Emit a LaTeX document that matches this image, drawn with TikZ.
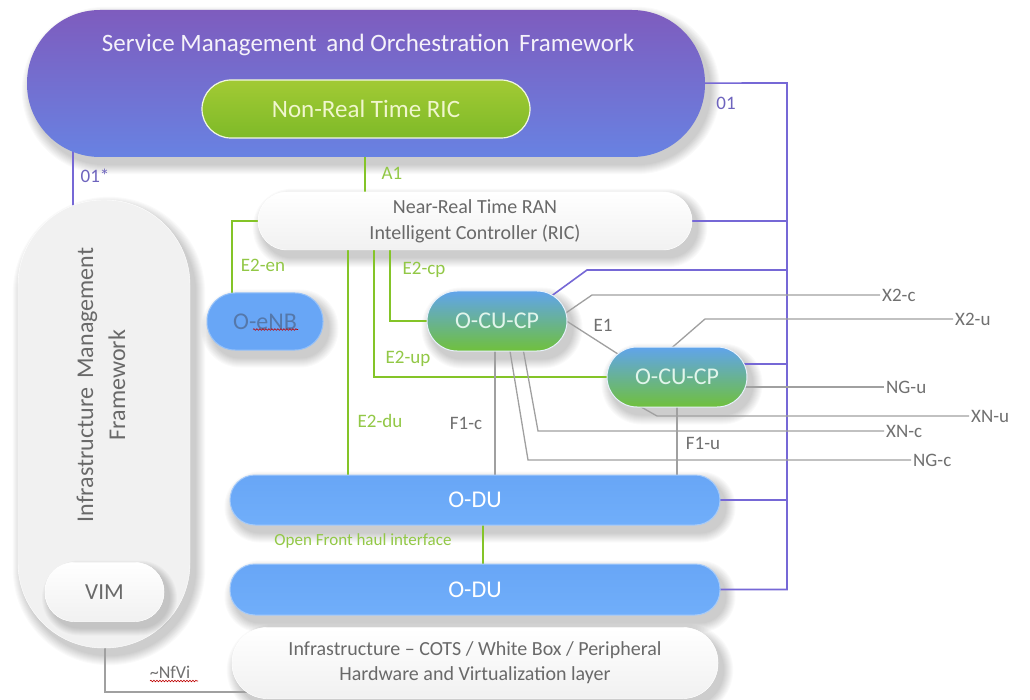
\documentclass[tikz,border=0pt]{standalone}
\usepackage{fontspec}
\setmainfont{Carlito}
\usetikzlibrary{calc,decorations.pathmorphing}
\pgfdeclarelayer{canvas}
\pgfdeclarelayer{bg}
\pgfdeclarelayer{top}
\pgfsetlayers{canvas,bg,main,top}

\definecolor{olinecol}{RGB}{118,104,214}
\definecolor{olabcol}{RGB}{110,100,190}
\definecolor{eline}{RGB}{132,196,40}
\definecolor{elab}{RGB}{146,200,70}
\definecolor{gline}{RGB}{160,160,160}
\definecolor{glab}{RGB}{112,112,112}
\definecolor{smotop}{RGB}{126,92,190}
\definecolor{smobot}{RGB}{104,130,226}
\definecolor{rictop}{RGB}{162,202,52}
\definecolor{ricbot}{RGB}{126,186,40}
\definecolor{blue1}{RGB}{104,166,246}
\definecolor{blue2}{RGB}{112,174,250}
\definecolor{cutop}{RGB}{96,164,236}
\definecolor{cubot}{RGB}{112,192,60}
\definecolor{softgray}{RGB}{241,241,241}
\definecolor{textgray}{RGB}{105,105,105}
\definecolor{enbtext}{RGB}{85,120,170}

\begin{document}
\begin{tikzpicture}[x=1pt,y=-1pt,
  pill/.style={rectangle, inner sep=0pt, rounded corners=#1},
  whitebox/.style={fill=white, draw=white, top color=white, bottom color=softgray},
  bluebox/.style={top color=blue1, bottom color=blue2, draw=blue1!60!white, line width=1pt,
      text=white, font=\fontsize{24}{28}\selectfont},
  cubox/.style={top color=cutop, bottom color=cubot, draw=white!85!cutop, line width=1pt,
      text={rgb,255:red,225;green,245;blue,235}, font=\fontsize{24}{28}\selectfont,
      minimum width=140pt, minimum height=60pt},
  oline/.style={draw=olinecol, line width=1.6pt},
  eline/.style={draw=eline, line width=1.6pt},
  gline/.style={draw=gline, line width=1.3pt},
  olab/.style={text=olabcol, font=\fontsize{19}{22}\selectfont},
  elab/.style={text=elab, font=\fontsize{19}{22}\selectfont},
  glab/.style={text=glab, font=\fontsize{19}{22}\selectfont},
  spell/.style={draw=red!75!black, line width=0.6pt, decorate,
      decoration={snake, amplitude=0.8pt, segment length=3pt}}
]
\begin{pgfonlayer}{canvas}
  \fill[white] (0,0) rectangle (1030,700);
\end{pgfonlayer}
\useasboundingbox (0,0) rectangle (1030,700);

% ---------- management layer ----------
\node[pill=73pt, top color=smotop, bottom color=smobot,
      minimum width=678pt, minimum height=147pt] (smo) at (366,83.5) {};
\node[text=white!92!smotop, font=\fontsize{25}{30}\selectfont] (smotitle) at (368,45)
  {Service Management\, and Orchestration\, Framework};
\node[pill=29pt, top color=rictop, bottom color=ricbot, draw=white!85!rictop, line width=1.2pt,
      minimum width=328pt, minimum height=58pt,
      text={rgb,255:red,240;green,246;blue,205}, font=\fontsize{25}{30}\selectfont]
  (nonrt) at (366,109) {Non-Real Time RIC};

% ---------- infrastructure management ----------
\node[pill=85pt, fill=softgray, draw=white, minimum width=172pt, minimum height=448pt]
  (imf) at (104,424) {};
\node[rotate=90, align=center, text=textgray, font=\fontsize{24}{32}\selectfont] (imftext) at (101,385)
  {Infrastructure\, Management\\Framework};
\begin{pgfonlayer}{top}
  % VIM sits on the framework box, so its shadow goes above that box
  \foreach \k in {1,...,8}
    \fill[black, opacity=0.022, rounded corners=29.5+\k]
      ($(104.5,592)+(-59.5+5-\k,-29.5+6-\k)$) rectangle ($(104.5,592)+(59.5+5+\k,29.5+6+\k)$);
  \node[pill=29pt, whitebox, minimum width=119pt, minimum height=59pt,
        text=textgray, font=\fontsize{23}{28}\selectfont] (vim) at (104.5,592) {VIM};
\end{pgfonlayer}

% ---------- RAN functions ----------
\node[pill=29pt, whitebox, minimum width=434pt, minimum height=58pt, align=center,
      text=textgray, font=\fontsize{20}{26}\selectfont] (nearrt) at (475,221)
  {Near-Real Time RAN\\Intelligent Controller (RIC)};
\node[pill=28pt, fill=blue1, draw=blue1!70!white, line width=1pt,
      minimum width=116pt, minimum height=57pt,
      text=enbtext, font=\fontsize{24}{28}\selectfont] (enb) at (265,321.5) {O-eNB};
\node[pill=30pt, cubox] (cu1) at (497,321) {O-CU-CP};
\node[pill=30pt, cubox] (cu2) at (677,377) {O-CU-CP};
\node[pill=25pt, bluebox, minimum width=490pt, minimum height=50pt] (odu1) at (475,500) {O-DU};
\node[pill=25pt, bluebox, minimum width=490pt, minimum height=51pt] (odu2) at (475,589.5) {O-DU};
\node[pill=35pt, whitebox, minimum width=486pt, minimum height=71pt, align=center,
      text=textgray, font=\fontsize{20}{25}\selectfont] (infra) at (475,663)
  {Infrastructure -- COTS / White Box / Peripheral\\Hardware and Virtualization layer};

% spell-check marks under two words
\draw[spell] ($(enb.center)+(-12,8)$) -- ($(enb.center)+(33,8)$);

% ---------- interface lines (behind the boxes) ----------
\coordinate (busT) at (787,83);
\coordinate (o1x) at (73,0);
\coordinate (a1x) at (365,0);
\coordinate (enx) at (232,0);
\coordinate (cpx) at (390,0);
\coordinate (upx) at (374,0);
\coordinate (dux) at (348,0);
\coordinate (fhx) at (483,0);
\coordinate (f1cx) at (495,0);
\coordinate (nfx) at (105,0);
\coordinate (nfy) at (0,692);

\begin{pgfonlayer}{bg}
  % soft drop shadows: stacked translucent outlines, offset down-right
  \foreach \n/\r in {smo/73.5, imf/86, nearrt/29, enb/28.5, cu1/30, cu2/30,
                     odu1/25, odu2/25.5, infra/35.5}
    \foreach \k in {1,...,10}
      \fill[black, opacity=0.02, rounded corners=\r+\k]
        ($(\n.north west)+(5-\k,7-\k)$) rectangle ($(\n.south east)+(5+\k,7+\k)$);
  % O1 bus
  \draw[oline] (smo.center) -- (busT) -- (odu2.center -| busT) -- (odu2.center);
  \draw[oline] (nearrt.center) -- (nearrt.center -| busT);
  \draw[oline] (odu1.center) -- (odu1.center -| busT);
  \draw[oline] ($(cu1.center)+(42,-16)$) -- (587,270) -- (787,270);
  \draw[oline] ($(cu2.center)+(0,-13)$) -- (787,364);
  % O1* and ~NfVi
  \draw[oline] (o1x |- smo.center) -- (o1x |- imf.center);
  \draw[gline] (nfx |- imf.center) -- (nfx |- nfy) -- ($(infra.center)+(-220,29)$);
  % A1 and E2
  \draw[eline] (a1x |- nonrt.center) -- (a1x |- nearrt.center);
  \draw[eline] (nearrt.center) -- (nearrt.center -| enx) -- (enx |- enb.center);
  \draw[eline] (cpx |- nearrt.center) -- (cpx |- cu1.center) -- (cu1.center);
  \draw[eline] (upx |- nearrt.center) -- (upx |- cu2.center) -- (cu2.center);
  \draw[eline] (dux |- nearrt.center) -- (dux |- odu1.center);
  \draw[eline] (fhx |- odu1.center) -- (fhx |- odu2.center);
  % F1, E1, X2, Xn, NG
  \draw[gline] (f1cx |- cu1.center) -- (f1cx |- odu1.center);
  \draw[gline] (cu2.center) -- (cu2.center |- odu1.center);
  \draw[gline] ($(cu1.center)+(32,-24)$) -- ($(cu2.center)+(-31,-5)$);
  \draw[gline] ($(cu1.center)+(47,7)$) -- (592,295) -- (880,295) coordinate (x2cend);
  \draw[gline] ($(cu2.center)+(-32,-6)$) -- (705,319) -- (953,319) coordinate (x2uend);
  \draw[gline] ($(cu2.center)+(0,10)$) -- (884,387) coordinate (nguend);
  \draw[gline] ($(cu2.center)+(-50,22)$) -- (657,416) -- (969,416) coordinate (xnuend);
  \draw[gline] ($(cu1.center)+(21,0)$) -- (538,431) -- (884,431) coordinate (xncend);
  \draw[gline] ($(cu1.center)+(8,0)$) -- (528,460) -- (911,460) coordinate (ngcend);
\end{pgfonlayer}

% ---------- interface labels ----------
\node[olab] (lo1s) at (95,176) {01*};
\node[olab] (lo1) at (726,103) {01};
\node[elab] (la1) at (392,173) {A1};
\node[elab] (len) at (263,265) {E2-en};
\node[elab] (lcp) at (424,270) {E2-cp};
\node[elab] (lup) at (408,359) {E2-up};
\node[elab] (ldu) at (380,421) {E2-du};
\node[elab, font=\fontsize{17}{20}\selectfont] (lfh) at (363,541) {Open Front haul interface};
\node[glab] (le1) at (603,325) {E1};
\node[glab] (lf1c) at (466,423) {F1-c};
\node[glab] (lf1u) at (703,443) {F1-u};
\node[glab, anchor=west, inner sep=2pt] (lx2c) at (x2cend) {X2-c};
\node[glab, anchor=west, inner sep=2pt] (lx2u) at (x2uend) {X2-u};
\node[glab, anchor=west, inner sep=2pt] (lngu) at (nguend) {NG-u};
\node[glab, anchor=west, inner sep=2pt] (lxnu) at (xnuend) {XN-u};
\node[glab, anchor=west, inner sep=2pt] (lxnc) at (xncend) {XN-c};
\node[glab, anchor=west, inner sep=2pt] (lngc) at (ngcend) {NG-c};
\node[glab, font=\fontsize{18}{22}\selectfont] (lnf) at (170,672) {\textasciitilde NfVi};
\draw[spell] ($(lnf.center)+(-20,9)$) -- ($(lnf.center)+(28,9)$);
\end{tikzpicture}
\end{document}
